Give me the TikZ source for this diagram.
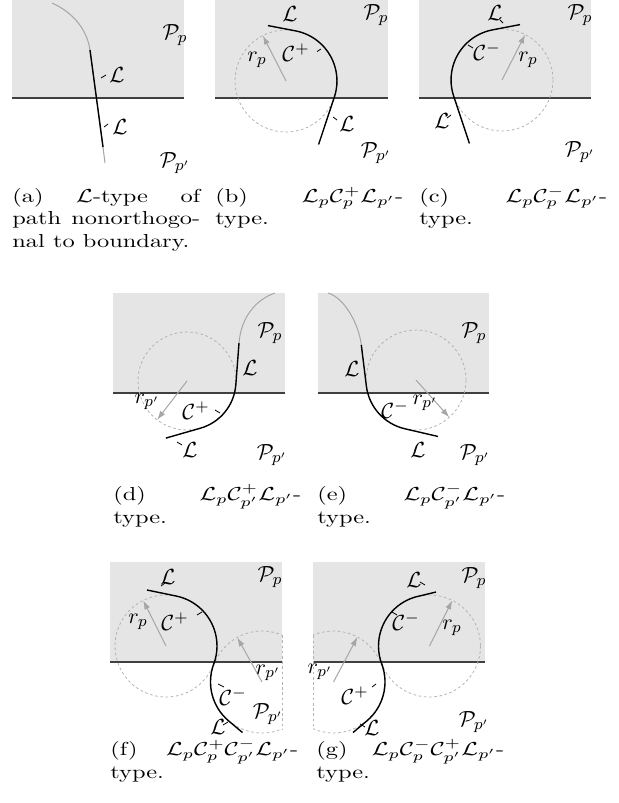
\documentclass[tikz,border=0pt]{standalone}
\usepackage{amsmath,amssymb}
\usepackage{graphicx}
\usepackage{xcolor}
\usepackage{tikz}
\usetikzlibrary{arrows.meta}

% caption text, set wide as in the scanned figure
\newcommand{\widecap}[1]{\scalebox{1.22}[0.94]{\parbox[t]{77pt}{\strut#1}}}

\begin{document}
\begin{tikzpicture}[
    x=0.5pt, y=-0.5pt,
    region/.style={fill=black!10},
    border/.style={draw=black!75, line width=0.6pt},
    route/.style={draw=black, line width=0.7pt},
    trail/.style={draw=black!35, line width=0.5pt},
    turn/.style={draw=black!30, line width=0.4pt, dash pattern=on 1.3pt off 1.3pt},
    rarrow/.style={draw=black!35, line width=0.5pt,
                   -{Latex[length=4.5pt, width=3pt]}},
    tickmark/.style={draw=black, line width=0.4pt},
    lbl/.style={font=\fontsize{11}{13}\selectfont, inner sep=0pt},
    subcap/.style={anchor=north west, inner sep=0pt, font=\normalsize}
]
\useasboundingbox (0,0) rectangle (618,803);

% (a) straight path
\fill[region] (12,0) rectangle (184,98);
\draw[border] (12,98) -- (184,98);
\draw[trail] (52,3) .. controls (74,13) and (87,30) .. (90,50) -- (103,147) -- (105,163);
\draw[route] (90,50) -- (103,147);
\draw[tickmark] (101,78) -- (106,75);
\draw[tickmark] (104,127) -- (108,124);
\node[lbl] (la1) at (117,75) {$\mathcal{L}$};
\node[lbl] (la2) at (120,127) {$\mathcal{L}$};
\node[lbl] (pa1) at (175,35) {$\mathcal{P}_p$};
\node[lbl] (pa2) at (175,163) {$\mathcal{P}_{p'}$};
\node[subcap] (capa) at (12,186)
    {\widecap{(a) $\mathcal{L}$-type of\linebreak path nonorthogo-\linebreak nal to boundary.}};

% (b) left turn in P_p
\fill[region] (215,0) rectangle (388,98);
\draw[border] (215,98) -- (388,98);
\coordinate (cb) at (286,81);
\draw[turn] (cb) circle[radius=51];
\draw[rarrow] (cb) -- ++(-117:51);
\draw[route] (268,25.6) -- (295.7,30.9) arc[start angle=-79, end angle=18.4, radius=51] -- ++(108.4:50);
\draw[tickmark] (317,51.5) -- (321,49);
\draw[tickmark] (333,117) -- (337,120);
\node[lbl] (lb1) at (290,14) {$\mathcal{L}$};
\node[lbl] (cpb) at (296,53) {$\mathcal{C}^{+}$};
\node[lbl] (rb) at (257,60) {$r_p$};
\node[lbl] (lb2) at (347,124) {$\mathcal{L}$};
\node[lbl] (pb1) at (376,15) {$\mathcal{P}_p$};
\node[lbl] (pb2) at (376,153) {$\mathcal{P}_{p'}$};
\node[subcap] (capb) at (215,186)
    {\widecap{(b) $\mathcal{L}_p\mathcal{C}^+_p\mathcal{L}_{p'}$-\linebreak type.}};

% (c) right turn in P_p
\fill[region] (419,0) rectangle (591,98);
\draw[border] (419,98) -- (591,98);
\coordinate (cc) at (502,80);
\draw[turn] (cc) circle[radius=51];
\draw[rarrow] (cc) -- ++(-63:51);
\draw[route] (520,24.6) -- (492.3,29.9) arc[start angle=259, end angle=161.6, radius=51] -- ++(71.6:50);
\draw[tickmark] (500,20) -- (503,23);
\draw[tickmark] (468,45) -- (473,48);
\draw[tickmark] (447,118) -- (451,115);
\node[lbl] (lc1) at (495,13) {$\mathcal{L}$};
\node[lbl] (cmc) at (487,52) {$\mathcal{C}^{-}$};
\node[lbl] (rc) at (528,60) {$r_p$};
\node[lbl] (lc2) at (442,121) {$\mathcal{L}$};
\node[lbl] (pc1) at (580,15) {$\mathcal{P}_p$};
\node[lbl] (pc2) at (580,152) {$\mathcal{P}_{p'}$};
\node[subcap] (capc) at (419,186)
    {\widecap{(c) $\mathcal{L}_p\mathcal{C}^-_p\mathcal{L}_{p'}$-\linebreak type.}};

% (d) left turn in P_p'
\fill[region] (113,293) rectangle (285,393);
\draw[border] (113,393) -- (285,393);
\coordinate (cd) at (187,381);
\draw[turn] (cd) circle[radius=49];
\draw[rarrow] (cd) -- ++(127.6:49);
\draw[trail] (275,293) .. controls (255,300) and (241,318) .. (239,343);
\draw[route] (239,343) -- (235.8,385) arc[start angle=4.6, end angle=74, radius=49] -- ++(164:36);
\draw[tickmark] (215,410) -- (220,413);
\draw[tickmark] (177,442) -- (182,445);
\node[lbl] (pd1) at (270,333) {$\mathcal{P}_p$};
\node[lbl] (ld1) at (250,368) {$\mathcal{L}$};
\node[lbl] (rd) at (147,402) {$r_{p'}$};
\node[lbl] (cpd) at (196,411) {$\mathcal{C}^{+}$};
\node[lbl] (ld2) at (190,450) {$\mathcal{L}$};
\node[lbl] (pd2) at (272,455) {$\mathcal{P}_{p'}$};
\node[subcap] (capd) at (113,484)
    {\widecap{(d) $\mathcal{L}_p\mathcal{C}^+_{p'}\mathcal{L}_{p'}$-\linebreak type.}};

% (e) right turn in P_p'
\fill[region] (318,293) rectangle (489,393);
\draw[border] (318,393) -- (489,393);
\coordinate (ce) at (416,380);
\draw[turn] (ce) circle[radius=50];
\draw[rarrow] (ce) -- ++(48.3:50);
\draw[trail] (328,293) .. controls (345,298) and (359,325) .. (361.3,345);
\draw[route] (361.3,345) -- (366.4,386.2) arc[start angle=172.9, end angle=103, radius=50] -- ++(13.1:34);
\node[lbl] (pe1) at (474,333) {$\mathcal{P}_p$};
\node[lbl] (le1) at (352,369) {$\mathcal{L}$};
\node[lbl] (cme) at (395,410) {$\mathcal{C}^{-}$};
\node[lbl] (re) at (425,403) {$r_{p'}$};
\node[lbl] (le2) at (418,450) {$\mathcal{L}$};
\node[lbl] (pe2) at (475,455) {$\mathcal{P}_{p'}$};
\node[subcap] (cape) at (317,484)
    {\widecap{(e) $\mathcal{L}_p\mathcal{C}^-_{p'}\mathcal{L}_{p'}$-\linebreak type.}};

% (f) left turn, then right turn
\fill[region] (110,562) rectangle (282,662);
\draw[border] (110,662) -- (282,662);
\coordinate (cf1) at (166,646);
\coordinate (cf2) at (262,682);
\draw[turn] (cf1) circle[radius=51];
\begin{scope}
  \clip (110,562) rectangle (282,760);
  \draw[turn] (cf2) circle[radius=51];
\end{scope}
\draw[turn] (282,635.1) -- (282,728.9);
\draw[rarrow] (cf1) -- ++(-116.6:51);
\draw[rarrow] (cf2) -- ++(-119:51);
\draw[route] (147,590) -- (176,596) arc[start angle=-78.7, end angle=20.6, radius=51]
    arc[start angle=200.6, end angle=130, radius=51] -- ++(40:18);
\draw[tickmark] (161,586) -- (165,583);
\draw[tickmark] (197,615) -- (202,612);
\draw[tickmark] (218,684) -- (224,687);
\draw[tickmark] (223,725) -- (228,722);
\node[lbl] (lf1) at (168,577) {$\mathcal{L}$};
\node[lbl] (pf1) at (270,577) {$\mathcal{P}_p$};
\node[lbl] (rf1) at (138,622) {$r_p$};
\node[lbl] (cpf) at (175,622) {$\mathcal{C}^{+}$};
\node[lbl] (rf2) at (268,673) {$r_{p'}$};
\node[lbl] (cmf) at (233,697) {$\mathcal{C}^{-}$};
\node[lbl] (pf2) at (268,714) {$\mathcal{P}_{p'}$};
\node[lbl] (lf2) at (218,727) {$\mathcal{L}$};
\node[subcap] (capf) at (110,739)
    {\widecap{(f) $\mathcal{L}_p\mathcal{C}^+_p\mathcal{C}^-_{p'}\mathcal{L}_{p'}$-\linebreak type.}};

% (g) right turn, then left turn
\fill[region] (313,562) rectangle (485,662);
\draw[border] (313,662) -- (485,662);
\coordinate (cg1) at (429.5,646);
\coordinate (cg2) at (333.5,682);
\draw[turn] (cg1) circle[radius=51];
\begin{scope}
  \clip (313,562) rectangle (485,760);
  \draw[turn] (cg2) circle[radius=51];
\end{scope}
\draw[turn] (313,635.3) -- (313,728.7);
\draw[rarrow] (cg1) -- ++(-63.4:51);
\draw[rarrow] (cg2) -- ++(-62:51);
\draw[route] (436,592) -- (419.5,596) arc[start angle=258.7, end angle=159.4, radius=51]
    arc[start angle=-20.6, end angle=50, radius=51] -- ++(140:18);
\draw[tickmark] (420,582) -- (425,585);
\draw[tickmark] (392,612) -- (397,615);
\draw[tickmark] (372,687) -- (376,684);
\draw[tickmark] (360,724) -- (365,727);
\node[lbl] (lg1) at (414,580) {$\mathcal{L}$};
\node[lbl] (pg1) at (474,578) {$\mathcal{P}_p$};
\node[lbl] (cmg) at (406,622) {$\mathcal{C}^{-}$};
\node[lbl] (rg1) at (452,628) {$r_p$};
\node[lbl] (rg2) at (320,672) {$r_{p'}$};
\node[lbl] (cpg) at (355,696) {$\mathcal{C}^{+}$};
\node[lbl] (lg2) at (372,728) {$\mathcal{L}$};
\node[lbl] (pg2) at (474,722) {$\mathcal{P}_{p'}$};
\node[subcap] (capg) at (316,739)
    {\widecap{(g) $\mathcal{L}_p\mathcal{C}^-_p\mathcal{C}^+_{p'}\mathcal{L}_{p'}$-\linebreak type.}};
\end{tikzpicture}
\end{document}
